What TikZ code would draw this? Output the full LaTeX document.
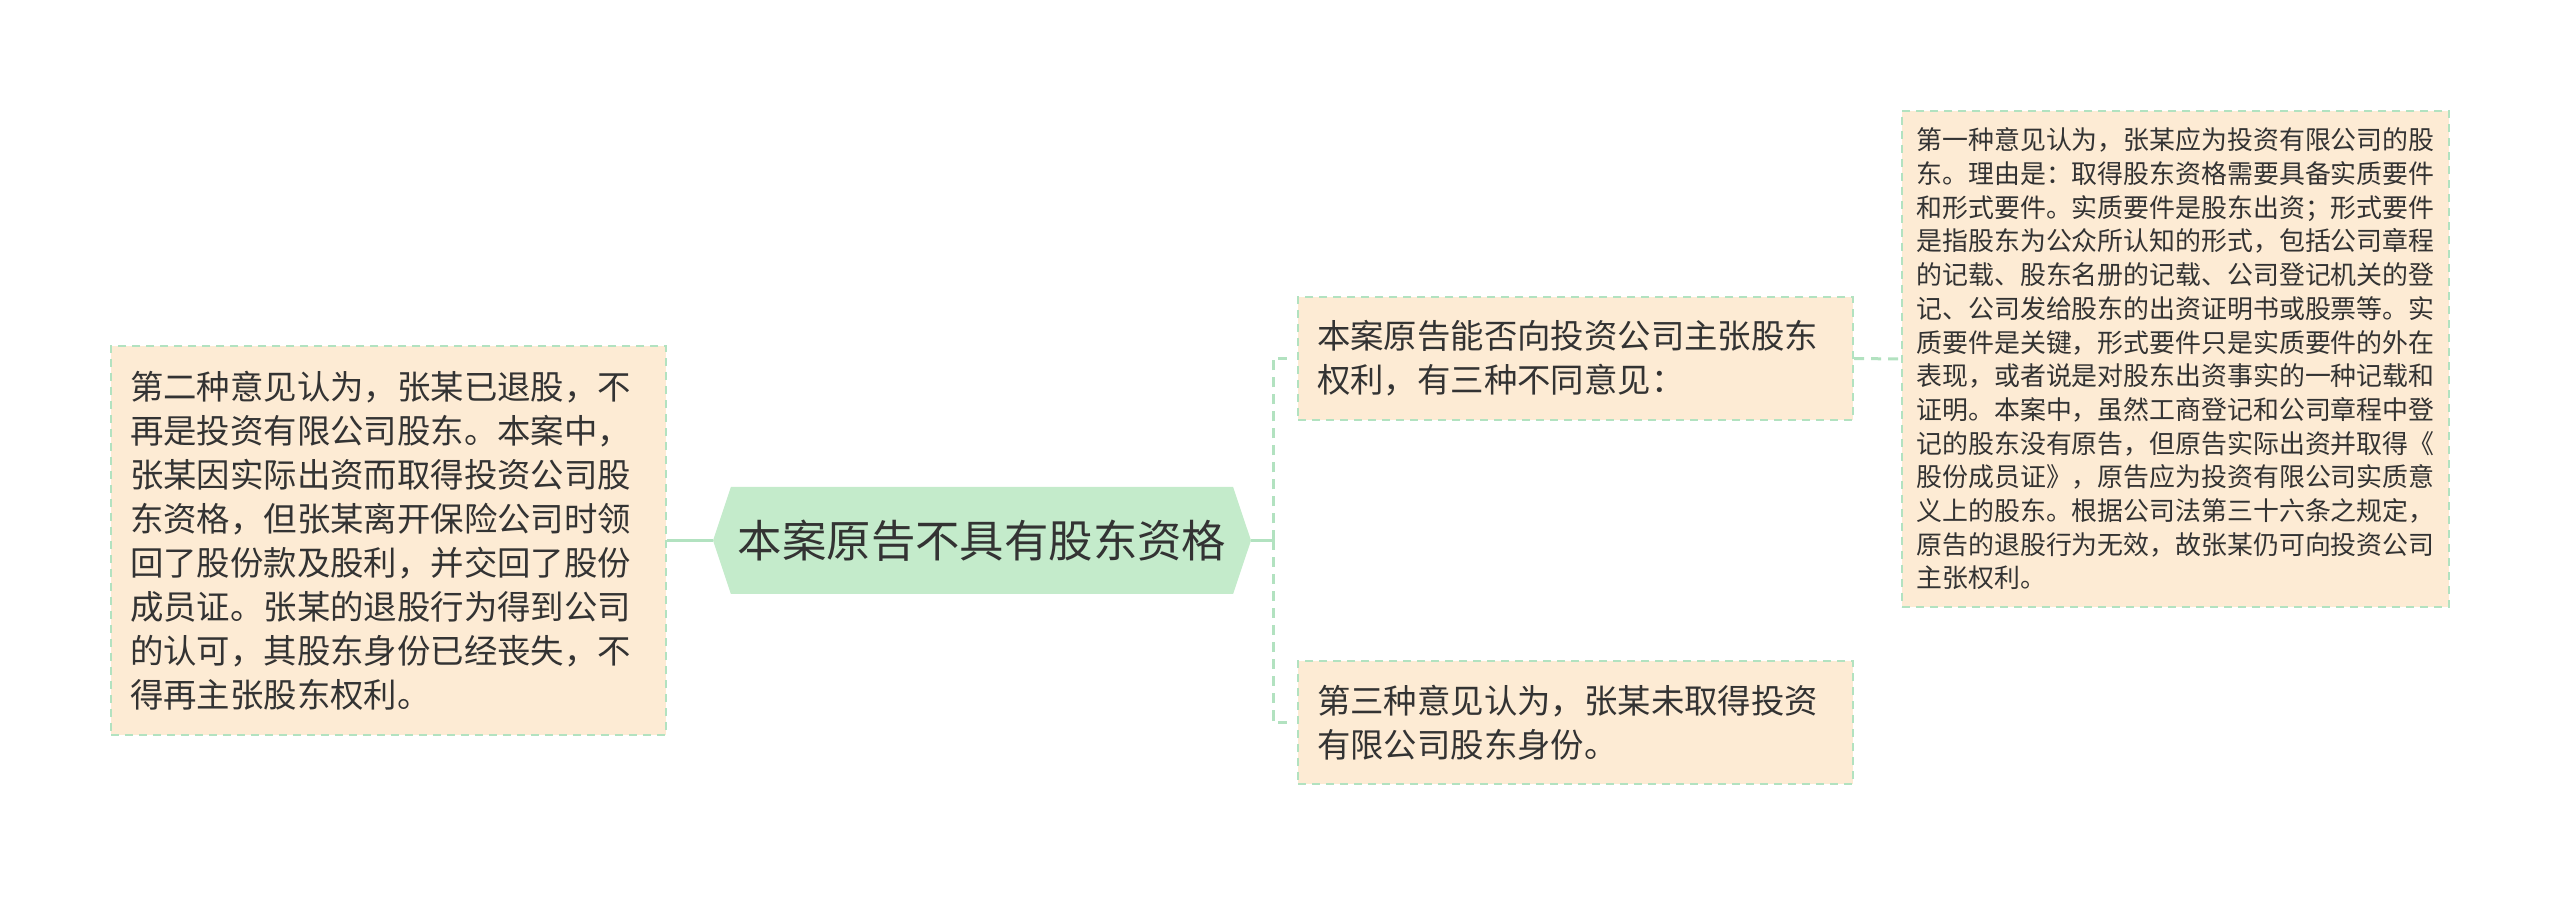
\documentclass[tikz,border=0pt]{standalone}
\usepackage{fontspec}
\usepackage{xcolor}
\usepackage{tikz}
\usetikzlibrary{shapes.symbols}
\setmainfont{Noto Sans CJK SC}

\definecolor{boxfill}{HTML}{FDEBD4}
\definecolor{edgegreen}{HTML}{B2E2C0}
\definecolor{rootfill}{HTML}{C4EBCB}
\definecolor{inkgray}{HTML}{333333}

\tikzset{
    opinion/.style={rectangle, draw=edgegreen, fill=boxfill, line width=1pt,
        dash pattern=on 4pt off 3pt, text=inkgray, align=left,
        inner xsep=9.5pt, inner ysep=0pt, text width=258.5pt,
        minimum width=277.5pt, minimum height=61.5pt},
    bodytext/.style={font=\fontsize{16.7pt}{22pt}\selectfont},
    smalltext/.style={font=\fontsize{12.95pt}{16.85pt}\selectfont},
    branch/.style={draw=edgegreen, line width=1.5pt},
    forkline/.style={branch, dash pattern=on 5pt off 3.5pt}
}

\begin{document}
\begin{tikzpicture}[x=0.5pt, y=-0.5pt]
            \useasboundingbox (0,0) rectangle (2560,897);

            \node[signal, signal to=west and east, signal pointer angle=143,
                fill=rootfill, text=inkgray, inner sep=0pt,
                minimum width=269pt, minimum height=53.5pt,
                font=\fontsize{22.2pt}{26pt}\selectfont] (Root) at (982,540.5)
                {本案原告不具有股东资格};

            \node[opinion, bodytext, minimum height=194.5pt] (OpinionTwo) at (388.5,540.5)
                {第二种意见认为，张某已退股，不\\
                再是投资有限公司股东。本案中，\\
                张某因实际出资而取得投资公司股\\
                东资格，但张某离开保险公司时领\\
                回了股份款及股利，并交回了股份\\
                成员证。张某的退股行为得到公司\\
                的认可，其股东身份已经丧失，不\\
                得再主张股东权利。};

            \node[opinion, bodytext] (Question) at (1575.5,358.5)
                {本案原告能否向投资公司主张股东\\
                权利，有三种不同意见：};

            \node[opinion, bodytext] (OpinionThree) at (1575.5,722.5)
                {第三种意见认为，张某未取得投资\\
                有限公司股东身份。};

            \node[opinion, smalltext, text width=259pt, inner xsep=7pt,
                minimum width=273.5pt, minimum height=248pt] (OpinionOne) at (2175.5,359)
                {第一种意见认为，张某应为投资有限公司的股\\
                东。理由是：取得股东资格需要具备实质要件\\
                和形式要件。实质要件是股东出资；形式要件\\
                是指股东为公众所认知的形式，包括公司章程\\
                的记载、股东名册的记载、公司登记机关的登\\
                记、公司发给股东的出资证明书或股票等。实\\
                质要件是关键，形式要件只是实质要件的外在\\
                表现，或者说是对股东出资事实的一种记载和\\
                证明。本案中，虽然工商登记和公司章程中登\\
                记的股东没有原告，但原告实际出资并取得《\\
                股份成员证》，原告应为投资有限公司实质意\\
                义上的股东。根据公司法第三十六条之规定，\\
                原告的退股行为无效，故张某仍可向投资公司\\
                主张权利。};

            \coordinate (Fork) at (1273,540.5);

            \draw [branch] (OpinionTwo.east) -- (Root.west);
            \draw [branch] (Root.east) -- (Fork);
            \draw [forkline] (Fork) |- ([xshift=-5pt]Question.west);
            \draw [forkline] (Fork) |- ([xshift=-5pt]OpinionThree.west);
            \draw [forkline] (Question.east) -- (OpinionOne.west);
        \end{tikzpicture}
\end{document}
